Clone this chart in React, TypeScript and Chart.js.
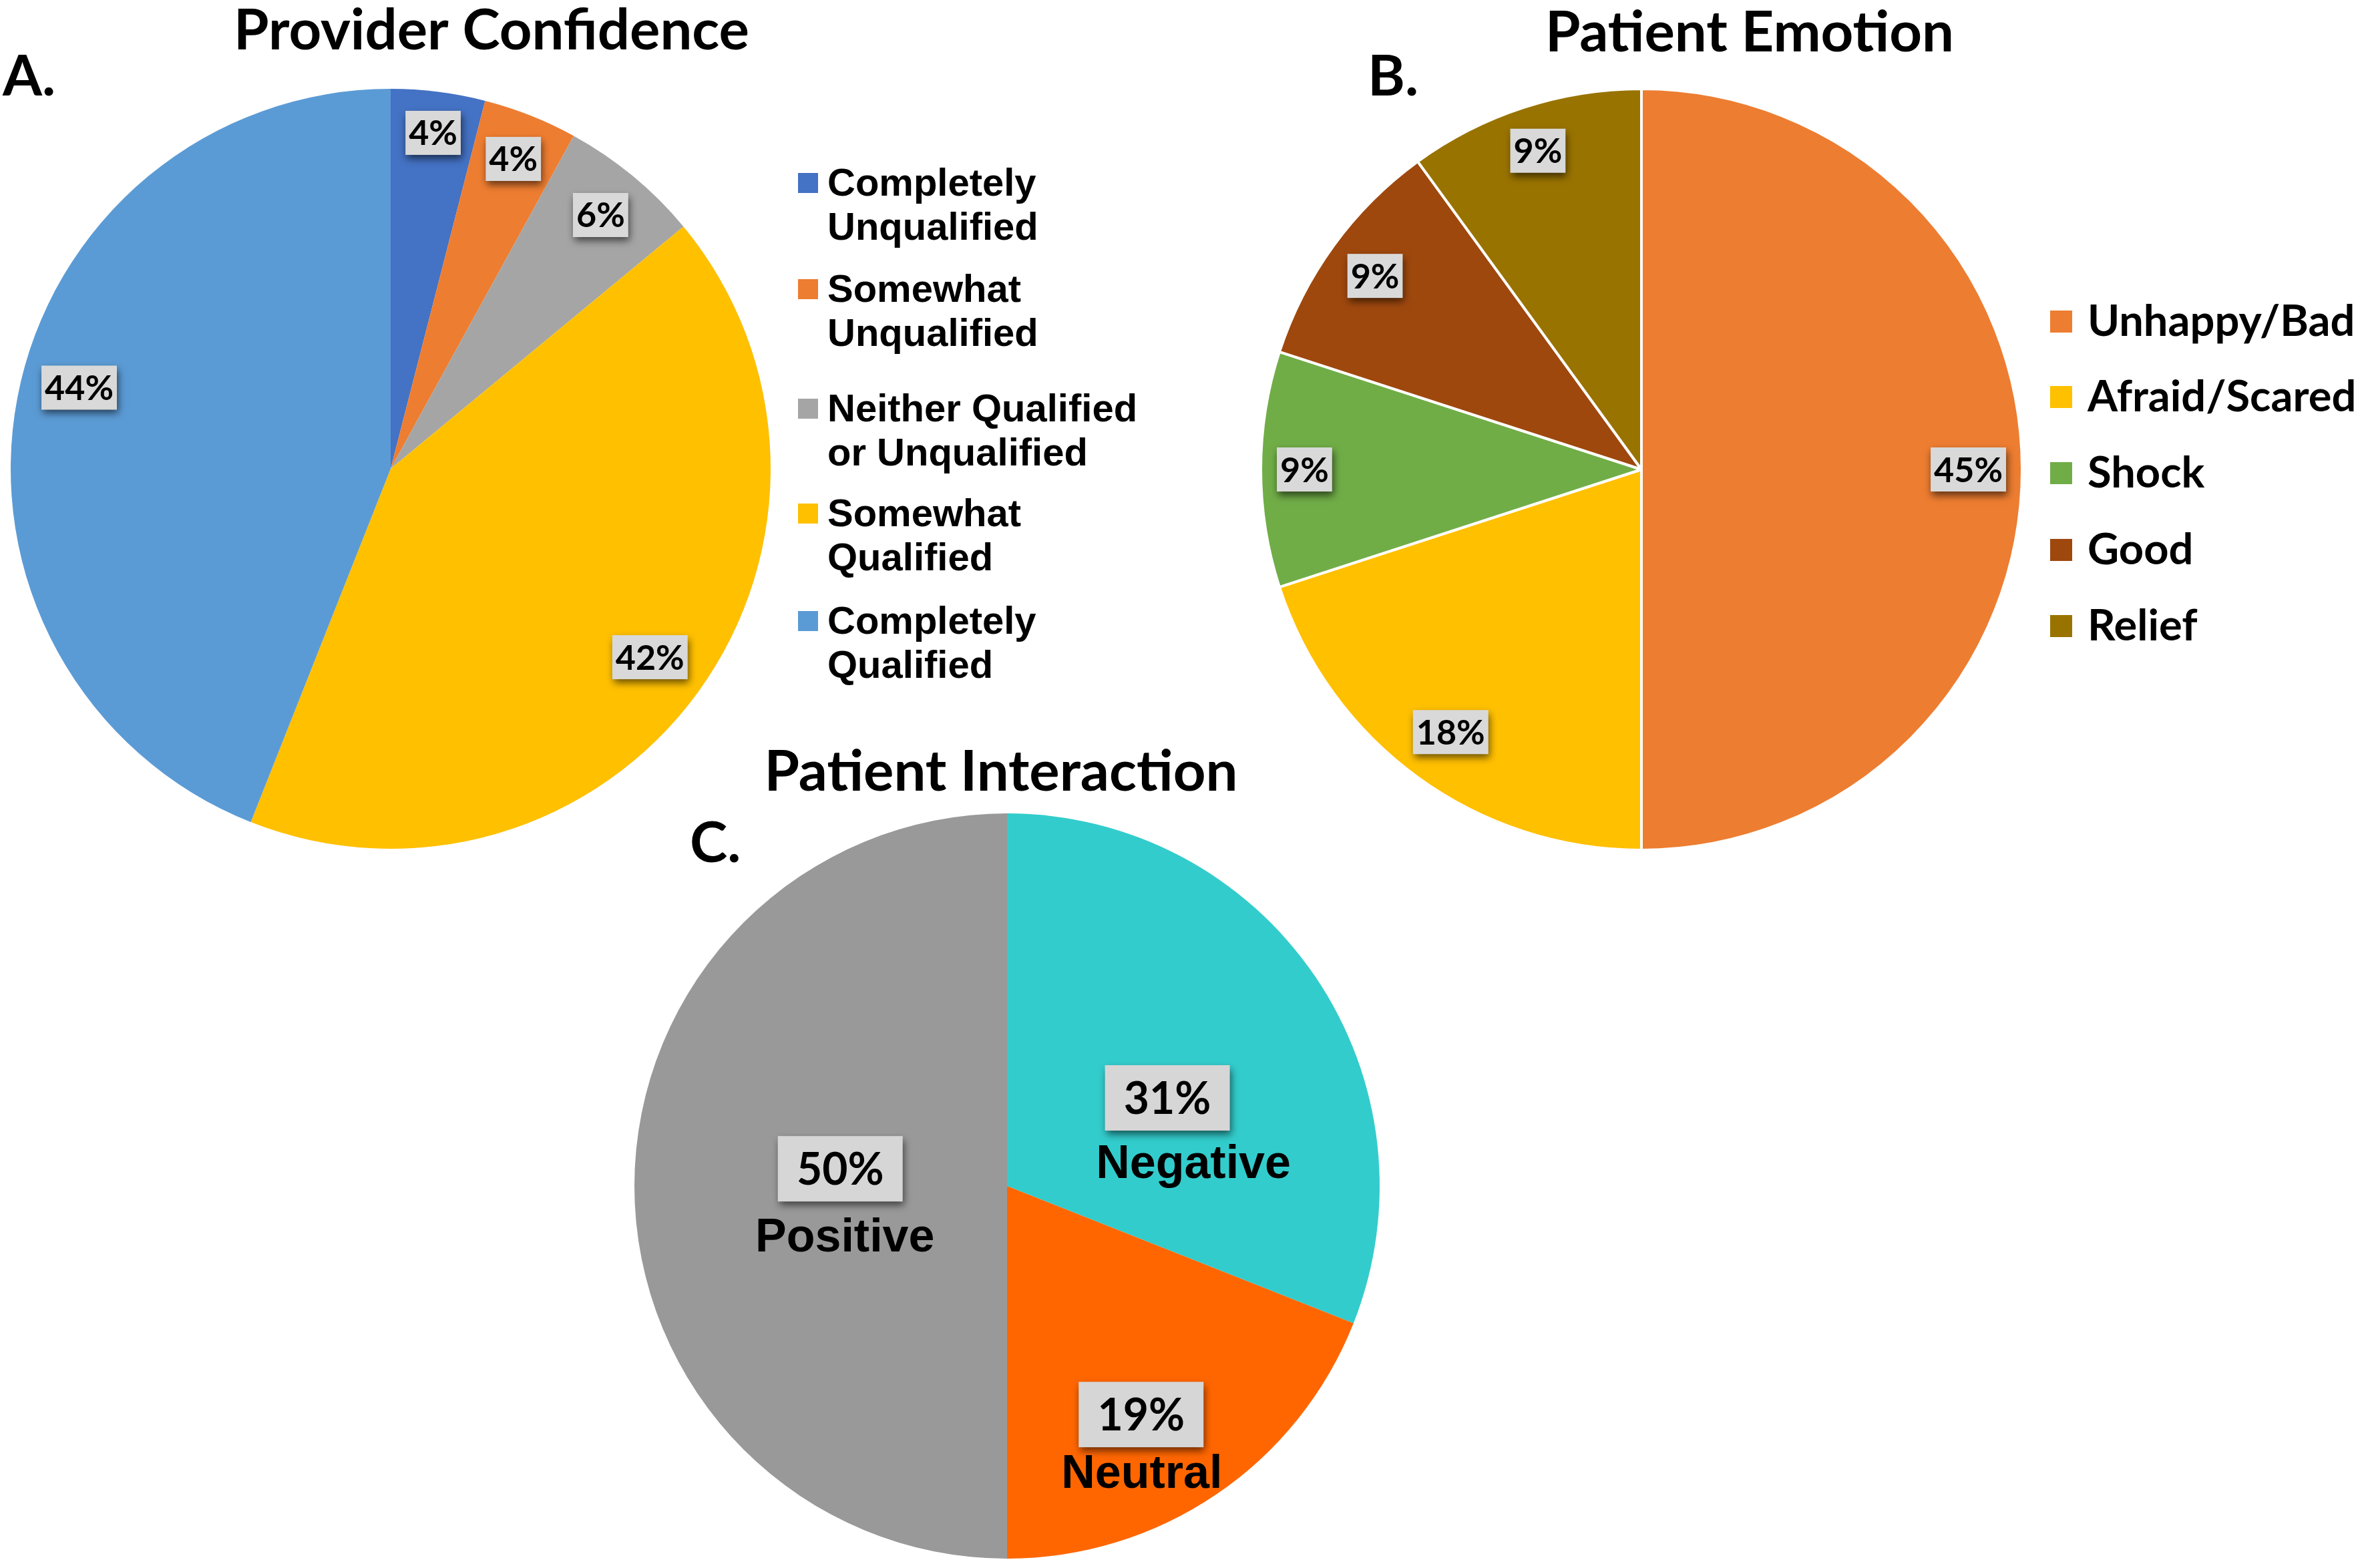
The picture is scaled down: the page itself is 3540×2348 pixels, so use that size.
import React, { useEffect, useRef } from "react";
import { Chart, registerables } from "chart.js";

Chart.register(...registerables);

const W = 3540;
const H = 2348;

// ---------- Panel A: Provider Confidence ----------
const confidenceTitle = "Provider Confidence";
const confidenceCategories = [
  "Completely Unqualified",
  "Somewhat Unqualified",
  "Neither Qualified or Unqualified",
  "Somewhat Qualified",
  "Completely Qualified",
];
const confidenceLegendLines = [
  ["Completely", "Unqualified"],
  ["Somewhat", "Unqualified"],
  ["Neither Qualified", "or Unqualified"],
  ["Somewhat", "Qualified"],
  ["Completely", "Qualified"],
];
const confidenceValues = [4, 4, 6, 42, 44];
const confidenceColors = ["#4472C4", "#ED7D31", "#A5A5A5", "#FFC000", "#5B9BD5"];

// ---------- Panel B: Patient Emotion ----------
const emotionTitle = "Patient Emotion";
const emotionCategories = ["Unhappy/Bad", "Afraid/Scared", "Shock", "Good", "Relief"];
const emotionCounts = [5, 2, 1, 1, 1];
const emotionPercentLabels = ["45%", "18%", "9%", "9%", "9%"];
const emotionColors = ["#ED7D31", "#FFC000", "#70AD47", "#9E480E", "#997300"];

// ---------- Panel C: Patient Interaction ----------
const interactionTitle = "Patient Interaction";
const interactionCategories = ["Negative", "Neutral", "Positive"];
const interactionValues = [31, 19, 50];
const interactionColors = ["#33CCCC", "#FF6600", "#999999"];

const CAL = 'Lato, "Open Sans", sans-serif';
const ARIAL = '"Liberation Sans", Arial, sans-serif';

const panelPlugin = {
  id: "panel",
  afterDatasetsDraw(chart: any, _args: any, opts: any) {
    const ctx: CanvasRenderingContext2D = chart.ctx;
    const meta = chart.getDatasetMeta(0);
    const L = opts.labels;
    if (!L) return;
    meta.data.forEach((arc: any, i: number) => {
      const p = arc.getProps(["x", "y", "startAngle", "endAngle", "outerRadius"], true);
      const text = L.texts[i];
      ctx.save();
      ctx.font = L.font;
      const tw = ctx.measureText(text).width;
      const bw = L.boxW ? L.boxW : tw + 2 * L.padX;
      const bh = L.boxH;
      const mid = (p.startAngle + p.endAngle) / 2 + ((L.dAng && L.dAng[i]) || 0) * Math.PI / 180;
      const ux = Math.cos(mid);
      const uy = Math.sin(mid);
      let d: number;
      if (L.mode === "insideEnd") {
        d = p.outerRadius - L.gap - (bw / 2 * Math.abs(ux) + bh / 2 * Math.abs(uy));
      } else {
        d = p.outerRadius * L.frac[i];
      }
      const cx = p.x + ux * d;
      const cy = p.y + uy * d;
      ctx.shadowColor = "rgba(0,0,0,0.6)";
      ctx.shadowBlur = 11;
      ctx.shadowOffsetX = 2;
      ctx.shadowOffsetY = 6;
      ctx.fillStyle = L.boxColor;
      ctx.fillRect(cx - bw / 2, cy - bh / 2, bw, bh);
      ctx.shadowColor = "transparent";
      ctx.shadowBlur = 0;
      ctx.shadowOffsetX = 0;
      ctx.shadowOffsetY = 0;
      ctx.fillStyle = "#000";
      ctx.textAlign = "center";
      ctx.textBaseline = "alphabetic";
      ctx.fillText(text, cx, cy + L.capH / 2);
      if (L.names) {
        ctx.font = L.nameFont;
        ctx.fillText(L.names[i], cx + L.nameDx[i], cy + L.nameDy[i]);
      }
      ctx.restore();
    });
  },
  afterDraw(chart: any, _args: any, opts: any) {
    const ctx: CanvasRenderingContext2D = chart.ctx;
    ctx.save();
    ctx.fillStyle = "#000";
    ctx.textBaseline = "alphabetic";
    if (opts.title) {
      ctx.font = opts.title.font;
      ctx.textAlign = "center";
      ctx.fillText(opts.title.text, opts.title.x, opts.title.y);
    }
    if (opts.letter) {
      ctx.font = opts.letter.font;
      ctx.textAlign = "left";
      ctx.fillText(opts.letter.text, opts.letter.x, opts.letter.y);
    }
    const lg = opts.legend;
    if (lg) {
      const colors = chart.data.datasets[0].backgroundColor;
      lg.lines.forEach((lines: string[], i: number) => {
        const base = lg.baselines[i];
        ctx.fillStyle = colors[i];
        ctx.fillRect(lg.markerX, base - lg.markerUp, lg.markerSize, lg.markerSize);
        ctx.fillStyle = "#000";
        ctx.font = lg.font;
        ctx.textAlign = "left";
        lines.forEach((t: string, j: number) => {
          ctx.fillText(t, lg.textX, base + j * lg.lineH);
        });
      });
    }
    ctx.restore();
  },
};

const TITLE_FONT = `bold 85px ${CAL}`;

function makeConfidence(): any {
  return {
    type: "pie",
    data: {
      labels: confidenceCategories,
      datasets: [
        {
          data: confidenceValues,
          backgroundColor: confidenceColors,
          borderWidth: 0,
          radius: 569,
        },
      ],
    },
    options: {
      responsive: false,
      animation: false,
      devicePixelRatio: 1,
      layout: { padding: { left: 16, right: 2386, top: 133, bottom: 1077 } },
      plugins: {
        legend: { display: false },
        tooltip: { enabled: false },
        panel: {
          title: { text: confidenceTitle, x: 736, y: 74, font: TITLE_FONT },
          letter: { text: "A.", x: 4, y: 143, font: TITLE_FONT },
          legend: {
            lines: confidenceLegendLines,
            baselines: [293, 452, 631, 788, 949],
            lineH: 66,
            markerX: 1195,
            markerSize: 30,
            markerUp: 34,
            textX: 1239,
            font: `bold 58px ${ARIAL}`,
          },
          labels: {
            texts: confidenceValues.map((v) => `${v}%`),
            mode: "insideEnd",
            gap: 24,
            dAng: [0, 0, 0, 0, 3.8],
            font: `bold 52px ${CAL}`,
            capH: 37,
            padX: 5,
            boxH: 66,
            boxColor: "#D9D9D9",
          },
        },
      },
    },
    plugins: [panelPlugin],
  };
}

function makeEmotion(): any {
  return {
    type: "pie",
    data: {
      labels: emotionCategories,
      datasets: [
        {
          data: emotionCounts,
          backgroundColor: emotionColors,
          borderColor: "#FFFFFF",
          borderWidth: 4,
          radius: 570,
        },
      ],
    },
    options: {
      responsive: false,
      animation: false,
      devicePixelRatio: 1,
      layout: { padding: { left: 1888, right: 512, top: 133, bottom: 1075 } },
      plugins: {
        legend: { display: false },
        tooltip: { enabled: false },
        panel: {
          title: { text: emotionTitle, x: 2620, y: 77, font: TITLE_FONT },
          letter: { text: "B.", x: 2048, y: 143, font: TITLE_FONT },
          legend: {
            lines: emotionCategories.map((c) => [c]),
            baselines: [503, 616, 730, 845, 959],
            lineH: 0,
            markerX: 3070,
            markerSize: 33,
            markerUp: 38,
            textX: 3126,
            font: `bold 65px ${CAL}`,
          },
          labels: {
            texts: emotionPercentLabels,
            mode: "insideEnd",
            gap: 24,
            font: `bold 52px ${CAL}`,
            capH: 37,
            padX: 5,
            boxH: 66,
            boxColor: "#D9D9D9",
          },
        },
      },
    },
    plugins: [panelPlugin],
  };
}

function makeInteraction(): any {
  return {
    type: "pie",
    data: {
      labels: interactionCategories,
      datasets: [
        {
          data: interactionValues,
          backgroundColor: interactionColors,
          borderWidth: 0,
          radius: 558,
        },
      ],
    },
    options: {
      responsive: false,
      animation: false,
      devicePixelRatio: 1,
      layout: { padding: { left: 950, right: 1474, top: 1218, bottom: 14 } },
      plugins: {
        legend: { display: false },
        tooltip: { enabled: false },
        panel: {
          title: { text: interactionTitle, x: 1499, y: 1184, font: TITLE_FONT },
          letter: { text: "C.", x: 1033, y: 1291, font: TITLE_FONT },
          labels: {
            texts: interactionValues.map((v) => `${v}%`),
            mode: "fraction",
            frac: [0.491, 0.711, 0.45],
            dAng: [5.4, 3.8, 5.9],
            font: `bold 66px ${CAL}`,
            capH: 47,
            boxW: 187,
            padX: 30,
            boxH: 98,
            boxColor: "#D6D6D6",
            names: interactionCategories,
            nameFont: `bold 70px ${ARIAL}`,
            nameDx: [39, 1, 7],
            nameDy: [120, 110, 124],
          },
        },
      },
    },
    plugins: [panelPlugin],
  };
}

function PieCanvas({ make }: { make: () => any }) {
  const ref = useRef<HTMLCanvasElement>(null);
  useEffect(() => {
    const chart = new Chart(ref.current as HTMLCanvasElement, make());
    return () => chart.destroy();
  }, [make]);
  return (
    <canvas
      ref={ref}
      width={W}
      height={H}
      style={{ position: "absolute", left: 0, top: 0, width: W, height: H }}
    />
  );
}

export default function App() {
  return (
    <div
      style={{
        position: "absolute",
        left: 0,
        top: 0,
        width: W,
        height: H,
        background: "#FFFFFF",
        overflow: "hidden",
      }}
    >
      <PieCanvas make={makeConfidence} />
      <PieCanvas make={makeEmotion} />
      <PieCanvas make={makeInteraction} />
    </div>
  );
}
